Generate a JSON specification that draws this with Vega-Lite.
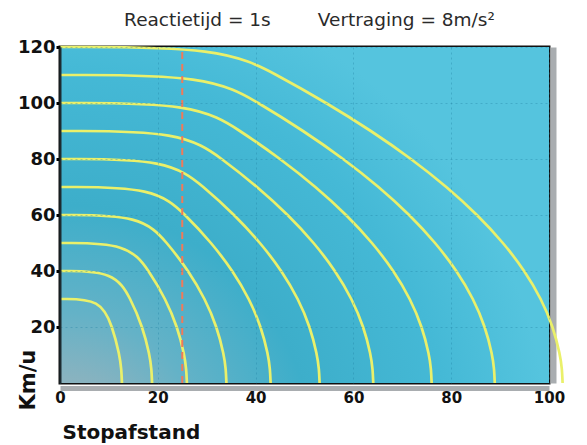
{
  "$schema": "https://vega.github.io/schema/vega-lite/v6.json",
  "width": 489,
  "height": 336,
  "autosize": "none",
  "padding": {"left": 60, "top": 47, "right": 38, "bottom": 62},
  "background": "white",
  "title": {
    "text": "Reactietijd = 1s\u00a0\u00a0\u00a0\u00a0\u00a0\u00a0\u00a0\u00a0Vertraging = 8m/s²",
    "frame": "group",
    "anchor": "middle",
    "dx": 5,
    "dy": 27,
    "offset": 21,
    "baseline": "alphabetic",
    "font": "DejaVu Sans",
    "fontSize": 18.5,
    "fontWeight": "normal",
    "color": "#2a2a2a"
  },
  "config": {
    "font": "DejaVu Sans",
    "view": {"stroke": "#111111", "strokeWidth": 3}
  },
  "layer": [
    {
      "data": {"values": [{}]},
      "mark": {
        "type": "rect",
        "fill": {
          "gradient": "radial",
          "x1": 0, "y1": 1, "r1": 0,
          "x2": 0, "y2": 1, "r2": 1,
          "stops": [
            {"offset": 0, "color": "#a2b4ba"},
            {"offset": 0.14, "color": "#90b3be"},
            {"offset": 0.3, "color": "#64b2c7"},
            {"offset": 0.52, "color": "#3daeca"},
            {"offset": 0.8, "color": "#45b9d6"},
            {"offset": 1, "color": "#55c4de"}
          ]
        }
      },
      "encoding": {
        "x": {"datum": 0, "type": "quantitative"},
        "x2": {"datum": 100},
        "y": {"datum": 0, "type": "quantitative", "axis": null},
        "y2": {"datum": 120}
      }
    },
    {
      "data": {
        "values": [
          {"v0": 30, "x": 0, "v": 30}, {"v0": 30, "x": 8.33, "v": 30}, {"v0": 30, "x": 10.74, "v": 20}, {"v0": 30, "x": 12.19, "v": 10}, {"v0": 30, "x": 12.55, "v": 5}, {"v0": 30, "x": 12.67, "v": 0},
          {"v0": 40, "x": 0, "v": 40}, {"v0": 40, "x": 11.11, "v": 40}, {"v0": 40, "x": 14.49, "v": 30}, {"v0": 40, "x": 16.9, "v": 20}, {"v0": 40, "x": 18.35, "v": 10}, {"v0": 40, "x": 18.71, "v": 5}, {"v0": 40, "x": 18.83, "v": 0},
          {"v0": 50, "x": 0, "v": 50}, {"v0": 50, "x": 13.89, "v": 50}, {"v0": 50, "x": 18.23, "v": 40}, {"v0": 50, "x": 21.6, "v": 30}, {"v0": 50, "x": 24.02, "v": 20}, {"v0": 50, "x": 25.46, "v": 10}, {"v0": 50, "x": 25.82, "v": 5}, {"v0": 50, "x": 25.95, "v": 0},
          {"v0": 60, "x": 0, "v": 60}, {"v0": 60, "x": 16.67, "v": 60}, {"v0": 60, "x": 21.97, "v": 50}, {"v0": 60, "x": 26.31, "v": 40}, {"v0": 60, "x": 29.69, "v": 30}, {"v0": 60, "x": 32.1, "v": 20}, {"v0": 60, "x": 33.55, "v": 10}, {"v0": 60, "x": 33.91, "v": 5}, {"v0": 60, "x": 34.03, "v": 0},
          {"v0": 70, "x": 0, "v": 70}, {"v0": 70, "x": 19.44, "v": 70}, {"v0": 70, "x": 25.71, "v": 60}, {"v0": 70, "x": 31.02, "v": 50}, {"v0": 70, "x": 35.36, "v": 40}, {"v0": 70, "x": 38.73, "v": 30}, {"v0": 70, "x": 41.14, "v": 20}, {"v0": 70, "x": 42.59, "v": 10}, {"v0": 70, "x": 42.95, "v": 5}, {"v0": 70, "x": 43.07, "v": 0},
          {"v0": 80, "x": 0, "v": 80}, {"v0": 80, "x": 22.22, "v": 80}, {"v0": 80, "x": 29.46, "v": 70}, {"v0": 80, "x": 35.73, "v": 60}, {"v0": 80, "x": 41.03, "v": 50}, {"v0": 80, "x": 45.37, "v": 40}, {"v0": 80, "x": 48.75, "v": 30}, {"v0": 80, "x": 51.16, "v": 20}, {"v0": 80, "x": 52.6, "v": 10}, {"v0": 80, "x": 52.97, "v": 5}, {"v0": 80, "x": 53.09, "v": 0},
          {"v0": 90, "x": 0, "v": 90}, {"v0": 90, "x": 25, "v": 90}, {"v0": 90, "x": 33.2, "v": 80}, {"v0": 90, "x": 40.43, "v": 70}, {"v0": 90, "x": 46.7, "v": 60}, {"v0": 90, "x": 52.01, "v": 50}, {"v0": 90, "x": 56.35, "v": 40}, {"v0": 90, "x": 59.72, "v": 30}, {"v0": 90, "x": 62.13, "v": 20}, {"v0": 90, "x": 63.58, "v": 10}, {"v0": 90, "x": 63.94, "v": 5}, {"v0": 90, "x": 64.06, "v": 0},
          {"v0": 100, "x": 0, "v": 100}, {"v0": 100, "x": 27.78, "v": 100}, {"v0": 100, "x": 36.94, "v": 90}, {"v0": 100, "x": 45.14, "v": 80}, {"v0": 100, "x": 52.37, "v": 70}, {"v0": 100, "x": 58.64, "v": 60}, {"v0": 100, "x": 63.95, "v": 50}, {"v0": 100, "x": 68.29, "v": 40}, {"v0": 100, "x": 71.66, "v": 30}, {"v0": 100, "x": 74.07, "v": 20}, {"v0": 100, "x": 75.52, "v": 10}, {"v0": 100, "x": 75.88, "v": 5}, {"v0": 100, "x": 76.0, "v": 0},
          {"v0": 110, "x": 0, "v": 110}, {"v0": 110, "x": 30.56, "v": 110}, {"v0": 110, "x": 40.68, "v": 100}, {"v0": 110, "x": 49.85, "v": 90}, {"v0": 110, "x": 58.04, "v": 80}, {"v0": 110, "x": 65.28, "v": 70}, {"v0": 110, "x": 71.55, "v": 60}, {"v0": 110, "x": 76.85, "v": 50}, {"v0": 110, "x": 81.19, "v": 40}, {"v0": 110, "x": 84.57, "v": 30}, {"v0": 110, "x": 86.98, "v": 20}, {"v0": 110, "x": 88.43, "v": 10}, {"v0": 110, "x": 88.79, "v": 5}, {"v0": 110, "x": 88.91, "v": 0},
          {"v0": 120, "x": 0, "v": 120}, {"v0": 120, "x": 33.33, "v": 120}, {"v0": 120, "x": 44.42, "v": 110}, {"v0": 120, "x": 54.55, "v": 100}, {"v0": 120, "x": 63.72, "v": 90}, {"v0": 120, "x": 71.91, "v": 80}, {"v0": 120, "x": 79.15, "v": 70}, {"v0": 120, "x": 85.42, "v": 60}, {"v0": 120, "x": 90.72, "v": 50}, {"v0": 120, "x": 95.06, "v": 40}, {"v0": 120, "x": 98.44, "v": 30}, {"v0": 120, "x": 100.85, "v": 20}, {"v0": 120, "x": 102.3, "v": 10}, {"v0": 120, "x": 102.66, "v": 5}, {"v0": 120, "x": 102.78, "v": 0}
        ]
      },
      "mark": {"type": "line", "interpolate": "basis", "stroke": "#eaf06a", "strokeWidth": 2.7, "clip": false},
      "encoding": {
        "x": {
          "field": "x",
          "type": "quantitative",
          "scale": {"domain": [0, 100], "nice": false},
          "axis": {
            "orient": "bottom",
            "values": [0, 20, 40, 60, 80, 100],
            "zindex": 1,
            "grid": true,
            "gridColor": "#1f7fa0",
            "gridOpacity": 0.35,
            "gridDash": [2, 3],
            "gridWidth": 1,
            "ticks": false,
            "domain": true,
            "domainColor": "#a9adb0",
            "domainWidth": 5,
            "offset": 5,
            "labelFontSize": 15,
            "labelFontWeight": "bold",
            "labelColor": "#111111",
            "labelPadding": 2,
            "labelFlush": false,
            "title": "Stopafstand",
            "titleFontSize": 20,
            "titleFontWeight": "bold",
            "titleColor": "#111111",
            "titleAnchor": "start",
            "titleAlign": "left",
            "titleBaseline": "alphabetic",
            "titleX": 2,
            "titleY": 50
          }
        },
        "y": {
          "field": "v",
          "type": "quantitative",
          "scale": {"domain": [0, 120], "nice": false},
          "axis": {
            "orient": "left",
            "values": [20, 40, 60, 80, 100, 120],
            "zindex": 1,
            "grid": true,
            "gridColor": "#1f7fa0",
            "gridOpacity": 0.35,
            "gridDash": [2, 3],
            "gridWidth": 1,
            "ticks": true,
            "tickSize": 4,
            "tickWidth": 3,
            "tickColor": "#000000",
            "domain": true,
            "domainColor": "#1d2b30",
            "domainWidth": 2,
            "labelFontSize": 18,
            "labelFontWeight": "bold",
            "labelColor": "#111111",
            "labelPadding": 1,
            "labelFlush": false,
            "title": "Km/u",
            "titleFontSize": 21,
            "titleFontWeight": "bold",
            "titleColor": "#111111",
            "titleAngle": 270,
            "titleAlign": "left",
            "titleBaseline": "alphabetic",
            "titleX": -26,
            "titleY": 363
          }
        },
        "detail": {"field": "v0", "type": "nominal"}
      }
    },
    {
      "data": {"values": [{"x": 25}]},
      "mark": {"type": "rule", "stroke": "#f07a5a", "strokeWidth": 2, "strokeDash": [7, 5]},
      "encoding": {
        "x": {"field": "x", "type": "quantitative"},
        "y": {
          "datum": 0,
          "type": "quantitative",
          "axis": {
            "orient": "right",
            "offset": 4,
            "domain": true,
            "domainColor": "#a9adb0",
            "domainWidth": 6,
            "labels": false,
            "ticks": false,
            "grid": false,
            "title": null
          }
        },
        "y2": {"datum": 120}
      }
    }
  ]
}
